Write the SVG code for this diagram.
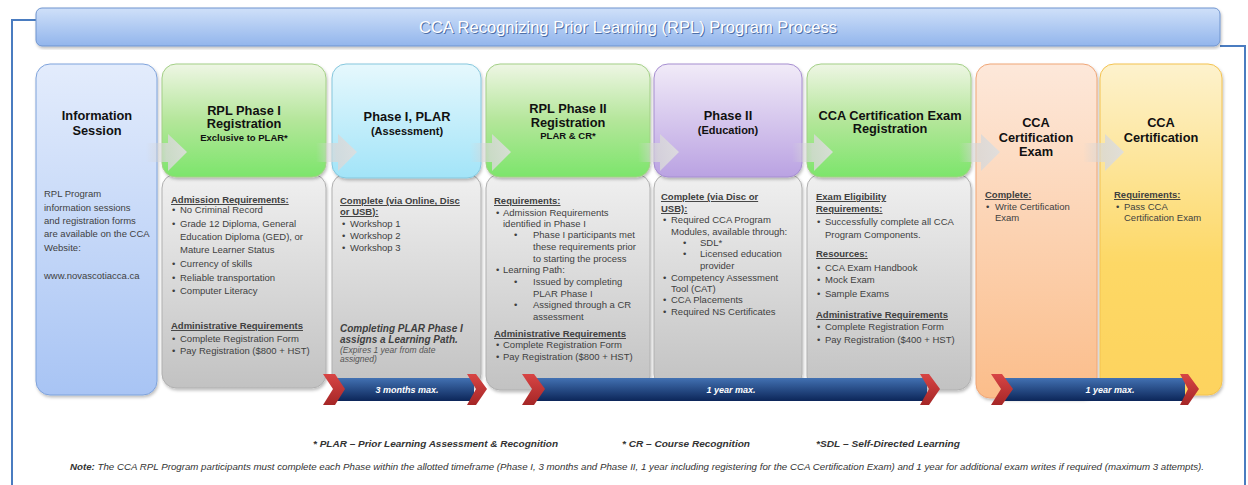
<svg xmlns="http://www.w3.org/2000/svg" width="1248" height="485" viewBox="0 0 1248 485">
<defs>
<style>
text{font-family:"Liberation Sans",Arial,sans-serif}
.h{font-weight:bold;font-size:12.8px;fill:#111;text-anchor:middle}
.hm{font-weight:bold;font-size:11px;fill:#111;text-anchor:middle}
.hs{font-weight:bold;font-size:9.5px;fill:#111;text-anchor:middle}
.b{font-size:9.5px;fill:#3f3f3f}
.bh{font-size:9.5px;fill:#3f3f3f;font-weight:bold;text-decoration:underline}
.bi{font-size:10px;fill:#3f3f3f;font-weight:bold;font-style:italic}
.si{font-size:8.5px;fill:#555;font-style:italic}
.rb{font-size:9px;fill:#fff;font-weight:bold;font-style:italic;text-anchor:middle}
.fn{font-size:9.5px;fill:#333;font-weight:bold;font-style:italic}
.note{font-size:9px;fill:#333;font-style:italic}
.box{filter:url(#sh)}
</style>
<filter id="sh" x="-10%" y="-10%" width="120%" height="120%"><feDropShadow dx="1" dy="2" stdDeviation="1.5" flood-color="#000" flood-opacity="0.25"/></filter>
<linearGradient id="gTitle" x1="0" y1="0" x2="0" y2="1"><stop offset="0" stop-color="#cfe0f9"/><stop offset="1" stop-color="#92b5ec"/></linearGradient>
<linearGradient id="gBlue" x1="0" y1="0" x2="0" y2="1"><stop offset="0" stop-color="#e3ecfc"/><stop offset="1" stop-color="#a8c4f4"/></linearGradient>
<linearGradient id="gGreen" x1="0" y1="0" x2="0" y2="1"><stop offset="0" stop-color="#eef6e4"/><stop offset="0.5" stop-color="#b4e69a"/><stop offset="1" stop-color="#7ce56b"/></linearGradient>
<linearGradient id="gCyan" x1="0" y1="0" x2="0" y2="1"><stop offset="0" stop-color="#e6f8fd"/><stop offset="1" stop-color="#a2e4f8"/></linearGradient>
<linearGradient id="gPurple" x1="0" y1="0" x2="0" y2="1"><stop offset="0" stop-color="#f1ebf8"/><stop offset="1" stop-color="#baa2e2"/></linearGradient>
<linearGradient id="gGray" x1="0" y1="0" x2="0" y2="1"><stop offset="0" stop-color="#f0f0f0"/><stop offset="1" stop-color="#c2c2c2"/></linearGradient>
<linearGradient id="gOrange" x1="0" y1="0" x2="0" y2="1"><stop offset="0" stop-color="#fde8da"/><stop offset="1" stop-color="#fbbd8a"/></linearGradient>
<linearGradient id="gYellow" x1="0" y1="0" x2="0" y2="1"><stop offset="0" stop-color="#fdf2cd"/><stop offset="0.6" stop-color="#fdd866"/><stop offset="1" stop-color="#fdd35e"/></linearGradient>
<linearGradient id="gBand" x1="0" y1="0" x2="0" y2="1"><stop offset="0" stop-color="#4271b2"/><stop offset="1" stop-color="#0c2659"/></linearGradient>
<linearGradient id="gRed" x1="0" y1="0" x2="0" y2="1"><stop offset="0" stop-color="#d84545"/><stop offset="1" stop-color="#a52626"/></linearGradient>
<linearGradient id="gArrow" x1="0" y1="0" x2="1" y2="0"><stop offset="0" stop-color="#d4d4d4" stop-opacity="0"/><stop offset="0.5" stop-color="#d8d8d8" stop-opacity="0.8"/><stop offset="1" stop-color="#dedede" stop-opacity="0.9"/></linearGradient>
<path id="arr" d="M-41,-9 H-19 V-18 L0,0 L-19,19 V10 H-41 Z" fill="url(#gArrow)"/>
</defs>

<rect width="1248" height="485" fill="#fff"/>

<!-- frame -->
<g id="frame" fill="none" stroke="#4a7cc0" stroke-width="2">
<path d="M36,20 H12 V485"/>
<path d="M1220,46 H1245 V485"/>
</g>

<!-- title -->
<g id="title">
<rect x="36" y="8" width="1184" height="38" rx="6" fill="url(#gTitle)" stroke="#6f94cf" stroke-width="1" class="box"/>
<text x="629" y="34" text-anchor="middle" font-size="17" fill="#4f70a8" textLength="418" lengthAdjust="spacingAndGlyphs">CCA Recognizing Prior Learning (RPL) Program Process</text>
<text x="628" y="33" text-anchor="middle" font-size="17" fill="#fff" textLength="418" lengthAdjust="spacingAndGlyphs">CCA Recognizing Prior Learning (RPL) Program Process</text>
</g>

<!-- column 1 -->
<g id="info-session">
<rect x="36" y="64" width="121" height="331" rx="14" fill="url(#gBlue)" stroke="#7fa3db" class="box"/>
<text class="h" x="97" y="120">Information</text>
<text class="h" x="97" y="135">Session</text>
<text class="b" x="44" y="197">RPL Program</text>
<text class="b" x="44" y="211">information sessions</text>
<text class="b" x="44" y="224">and registration forms</text>
<text class="b" x="44" y="237">are available on the CCA</text>
<text class="b" x="44" y="251">Website:</text>
<text class="b" x="44" y="279">www.novascotiacca.ca</text>
</g>

<!-- column 2 -->
<g id="rpl-phase1-registration">
<rect x="162" y="174" width="164" height="214" rx="14" fill="url(#gGray)" stroke="#b0b0b0" class="box"/>
<rect x="162" y="64" width="164" height="113" rx="14" fill="url(#gGreen)" stroke="#a3cf86" class="box"/>
<text class="h" x="244" y="115">RPL Phase I</text>
<text class="h" x="244" y="128">Registration</text>
<text class="hs" x="244" y="141">Exclusive to PLAR*</text>
<text class="bh" x="171" y="203">Admission Requirements:</text>
<text class="b" x="172" y="213">•</text><text class="b" x="180" y="213">No Criminal Record</text>
<text class="b" x="172" y="227">•</text><text class="b" x="180" y="227">Grade 12 Diploma, General</text>
<text class="b" x="180" y="240">Education Diploma (GED), or</text>
<text class="b" x="180" y="253">Mature Learner Status</text>
<text class="b" x="172" y="267">•</text><text class="b" x="180" y="267">Currency of skills</text>
<text class="b" x="172" y="281">•</text><text class="b" x="180" y="281">Reliable transportation</text>
<text class="b" x="172" y="294">•</text><text class="b" x="180" y="294">Computer Literacy</text>
<text class="bh" x="171" y="329">Administrative Requirements</text>
<text class="b" x="172" y="342">•</text><text class="b" x="180" y="342">Complete Registration Form</text>
<text class="b" x="172" y="354">•</text><text class="b" x="180" y="354">Pay Registration ($800 + HST)</text>
</g>

<!-- column 3 -->
<g id="phase1-plar">
<rect x="332" y="174" width="149" height="214" rx="14" fill="url(#gGray)" stroke="#b0b0b0" class="box"/>
<rect x="332" y="64" width="149" height="114" rx="14" fill="url(#gCyan)" stroke="#86c7dd" class="box"/>
<text class="h" x="407" y="121">Phase I, PLAR</text>
<text class="hm" x="407" y="135">(Assessment)</text>
<text class="bh" x="340" y="204">Complete (via Online, Disc</text>
<text class="bh" x="340" y="215">or USB):</text>
<text class="b" x="342" y="227">•</text><text class="b" x="350" y="227">Workshop 1</text>
<text class="b" x="342" y="239">•</text><text class="b" x="350" y="239">Workshop 2</text>
<text class="b" x="342" y="251">•</text><text class="b" x="350" y="251">Workshop 3</text>
<text class="bi" x="340" y="332">Completing PLAR Phase I</text>
<text class="bi" x="340" y="343">assigns a Learning Path.</text>
<text class="si" x="340" y="353">(Expires 1 year from date</text>
<text class="si" x="340" y="362">assigned)</text>
</g>

<!-- column 4 -->
<g id="rpl-phase2-registration">
<rect x="486" y="174" width="164" height="216" rx="14" fill="url(#gGray)" stroke="#b0b0b0" class="box"/>
<rect x="486" y="64" width="164" height="113" rx="14" fill="url(#gGreen)" stroke="#a3cf86" class="box"/>
<text class="h" x="568" y="113">RPL Phase II</text>
<text class="h" x="568" y="127">Registration</text>
<text class="hs" x="568" y="139">PLAR &amp; CR*</text>
<text class="bh" x="494" y="204">Requirements:</text>
<text class="b" x="496" y="216">•</text><text class="b" x="503" y="216">Admission Requirements</text>
<text class="b" x="503" y="227">identified in Phase I</text>
<text class="b" x="514" y="238">•</text><text class="b" x="533" y="238">Phase I participants met</text>
<text class="b" x="533" y="250">these requirements prior</text>
<text class="b" x="533" y="262">to starting the process</text>
<text class="b" x="496" y="273">•</text><text class="b" x="503" y="273">Learning Path:</text>
<text class="b" x="514" y="285">•</text><text class="b" x="533" y="285">Issued by completing</text>
<text class="b" x="533" y="297">PLAR Phase I</text>
<text class="b" x="514" y="308">•</text><text class="b" x="533" y="308">Assigned through a CR</text>
<text class="b" x="533" y="320">assessment</text>
<text class="bh" x="494" y="337">Administrative Requirements</text>
<text class="b" x="496" y="348">•</text><text class="b" x="503" y="348">Complete Registration Form</text>
<text class="b" x="496" y="360">•</text><text class="b" x="503" y="360">Pay Registration ($800 + HST)</text>
</g>

<!-- column 5 -->
<g id="phase2-education">
<rect x="654" y="174" width="148" height="214" rx="14" fill="url(#gGray)" stroke="#b0b0b0" class="box"/>
<rect x="654" y="64" width="148" height="113" rx="14" fill="url(#gPurple)" stroke="#a68ed0" class="box"/>
<text class="h" x="728" y="120">Phase II</text>
<text class="hm" x="728" y="134">(Education)</text>
<text class="bh" x="661" y="200">Complete (via Disc or</text>
<text class="bh" x="661" y="212">USB):</text>
<text class="b" x="663" y="223">•</text><text class="b" x="671" y="223">Required CCA Program</text>
<text class="b" x="671" y="235">Modules, available through:</text>
<text class="b" x="683" y="246">•</text><text class="b" x="700" y="246">SDL*</text>
<text class="b" x="683" y="257">•</text><text class="b" x="700" y="257">Licensed education</text>
<text class="b" x="700" y="269">provider</text>
<text class="b" x="663" y="281">•</text><text class="b" x="671" y="281">Competency Assessment</text>
<text class="b" x="671" y="292">Tool (CAT)</text>
<text class="b" x="663" y="303">•</text><text class="b" x="671" y="303">CCA Placements</text>
<text class="b" x="663" y="315">•</text><text class="b" x="671" y="315">Required NS Certificates</text>
</g>

<!-- column 6 -->
<g id="exam-registration">
<rect x="807" y="174" width="164" height="216" rx="14" fill="url(#gGray)" stroke="#b0b0b0" class="box"/>
<rect x="807" y="64" width="164" height="113" rx="14" fill="url(#gGreen)" stroke="#a3cf86" class="box"/>
<text class="h" x="890" y="120">CCA Certification Exam</text>
<text class="h" x="890" y="133">Registration</text>
<text class="bh" x="816" y="200">Exam Eligibility</text>
<text class="bh" x="816" y="212">Requirements:</text>
<text class="b" x="817" y="225">•</text><text class="b" x="825" y="225">Successfully complete all CCA</text>
<text class="b" x="825" y="238">Program Components.</text>
<text class="bh" x="816" y="257">Resources:</text>
<text class="b" x="817" y="271">•</text><text class="b" x="825" y="271">CCA Exam Handbook</text>
<text class="b" x="817" y="283">•</text><text class="b" x="825" y="283">Mock Exam</text>
<text class="b" x="817" y="297">•</text><text class="b" x="825" y="297">Sample Exams</text>
<text class="bh" x="816" y="318">Administrative Requirements</text>
<text class="b" x="817" y="330">•</text><text class="b" x="825" y="330">Complete Registration Form</text>
<text class="b" x="817" y="343">•</text><text class="b" x="825" y="343">Pay Registration ($400 + HST)</text>
</g>

<!-- column 7 -->
<g id="certification-exam">
<rect x="976" y="64" width="121" height="334" rx="14" fill="url(#gOrange)" stroke="#efa677" class="box"/>
<text class="h" x="1036" y="127">CCA</text>
<text class="h" x="1036" y="142">Certification</text>
<text class="h" x="1036" y="156">Exam</text>
<text class="bh" x="985" y="198">Complete:</text>
<text class="b" x="986" y="210">•</text><text class="b" x="995" y="210">Write Certification</text>
<text class="b" x="995" y="221">Exam</text>
</g>

<!-- column 8 -->
<g id="certification">
<rect x="1100" y="64" width="122" height="331" rx="14" fill="url(#gYellow)" stroke="#f3c250" class="box"/>
<text class="h" x="1161" y="127">CCA</text>
<text class="h" x="1161" y="142">Certification</text>
<text class="bh" x="1114" y="198">Requirements:</text>
<text class="b" x="1116" y="210">•</text><text class="b" x="1124" y="210">Pass CCA</text>
<text class="b" x="1124" y="221">Certification Exam</text>
</g>

<!-- connectors -->
<g id="connectors">
<use href="#arr" transform="translate(187,152)"/>
<use href="#arr" transform="translate(357,152)"/>
<use href="#arr" transform="translate(511,152)"/>
<use href="#arr" transform="translate(679,152)"/>
<use href="#arr" transform="translate(833,152)"/>
<use href="#arr" transform="translate(1000,152)"/>
<use href="#arr" transform="translate(1124,152)"/>
</g>

<!-- timeline ribbons -->
<g id="ribbon-1">
<rect x="333" y="378" width="141" height="23" fill="url(#gBand)"/>
<polygon points="323,374 335,374 345,389 335,405 323,405 333,389" fill="url(#gRed)"/>
<polygon points="467,374 476,374 487,389 476,405 467,405 476,389" fill="url(#gRed)"/>
<text class="rb" x="407" y="393">3 months max.</text>
</g>
<g id="ribbon-2">
<rect x="535" y="378" width="392" height="23" fill="url(#gBand)"/>
<polygon points="522,374 534,374 545,389 534,405 522,405 532,389" fill="url(#gRed)"/>
<polygon points="920,374 929,374 940,389 929,405 920,405 929,389" fill="url(#gRed)"/>
<text class="rb" x="731" y="393">1 year max.</text>
</g>
<g id="ribbon-3">
<rect x="1003" y="378" width="182" height="23" fill="url(#gBand)"/>
<polygon points="991,374 1002,374 1013,389 1002,405 991,405 1001,389" fill="url(#gRed)"/>
<polygon points="1180,374 1188,374 1199,389 1188,405 1180,405 1188,389" fill="url(#gRed)"/>
<text class="rb" x="1110" y="393">1 year max.</text>
</g>

<!-- footnotes -->
<g id="footnotes">
<text class="fn" x="313" y="447" textLength="245" lengthAdjust="spacingAndGlyphs">* PLAR – Prior Learning Assessment &amp; Recognition</text>
<text class="fn" x="622" y="447" textLength="128" lengthAdjust="spacingAndGlyphs">* CR – Course Recognition</text>
<text class="fn" x="816" y="447" textLength="144" lengthAdjust="spacingAndGlyphs">*SDL – Self-Directed Learning</text>
<text class="note" x="70" y="470" textLength="1134" lengthAdjust="spacingAndGlyphs"><tspan font-weight="bold">Note:</tspan> The CCA RPL Program participants must complete each Phase within the allotted timeframe (Phase I, 3 months and Phase II, 1 year including registering for the CCA Certification Exam) and 1 year for additional exam writes if required (maximum 3 attempts).</text>
</g>
</svg>
